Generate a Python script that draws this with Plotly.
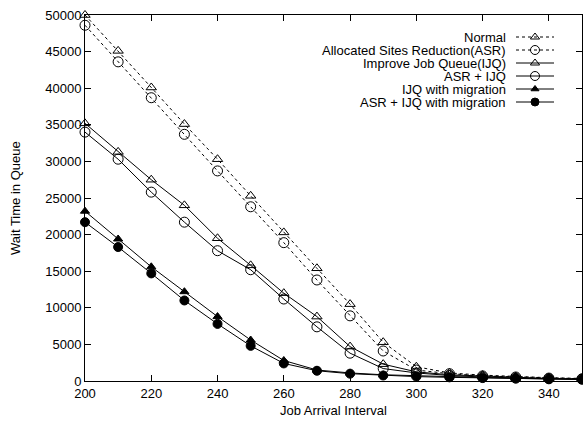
import plotly.graph_objects as go

x_vals = [200, 210, 220, 230, 240, 250, 260, 270, 280, 290, 300, 310, 320, 330, 340, 350]

normal = [50000, 45100, 40100, 35100, 30300, 25300, 20300, 15400, 10500, 5300, 1950, 1100, 800, 600, 450, 350]
asr = [48600, 43600, 38700, 33700, 28700, 23800, 18900, 13800, 8900, 4100, 1500, 1000, 700, 550, 400, 300]
ijq = [35200, 31300, 27500, 24000, 19500, 15800, 12000, 8800, 4700, 2300, 1250, 850, 650, 450, 350, 250]
asr_ijq = [34000, 30300, 25800, 21700, 17800, 15200, 11200, 7400, 3800, 1700, 1100, 750, 550, 400, 300, 250]
ijq_mig = [23200, 19400, 15600, 12200, 8800, 5600, 2800, 1500, 1100, 850, 700, 550, 450, 350, 300, 250]
asr_ijq_mig = [21700, 18300, 14700, 11000, 7800, 4800, 2400, 1400, 1000, 750, 600, 500, 400, 350, 280, 220]

names = ["Normal", "Allocated Sites Reduction(ASR)", "Improve Job Queue(IJQ)",
         "ASR + IJQ", "IJQ with migration", "ASR + IJQ with migration"]
series = [normal, asr, ijq, asr_ijq, ijq_mig, asr_ijq_mig]
symbols = ["triangle-up-open", "circle-open", "triangle-up-open", "circle-open", "triangle-up", "circle"]
dashes = ["3px,3px", "3px,3px", "solid", "solid", "solid", "solid"]
sizes = [9, 10, 9, 10, 8, 9]

x_ticks = [200, 220, 240, 260, 280, 300, 320, 340]
y_ticks = [0, 5000, 10000, 15000, 20000, 25000, 30000, 35000, 40000, 45000, 50000]
y_tick_labels = [str(v) for v in y_ticks]

FONT = "Liberation Sans, Arial, sans-serif"
fig = go.Figure()

for nm, ys, sym, ds, sz in zip(names, series, symbols, dashes, sizes):
    fig.add_trace(go.Scatter(
        x=x_vals, y=ys, mode="lines+markers", name=nm,
        line=dict(color="black", width=1, dash=ds),
        marker=dict(symbol=sym, size=sz, color="black", line=dict(color="black", width=1)),
        cliponaxis=False, showlegend=False))

# manual gnuplot-style legend (text left, sample right), in pixel-like overlay axes
leg_y0 = 37
leg_dy = 13
for i, (nm, sym, ds, sz) in enumerate(zip(names, symbols, dashes, sizes)):
    yy = leg_y0 + i * leg_dy
    fig.add_trace(go.Scatter(
        x=[516, 554], y=[yy, yy], mode="lines", xaxis="x2", yaxis="y2",
        line=dict(color="black", width=1, dash=ds), showlegend=False, hoverinfo="skip"))
    fig.add_trace(go.Scatter(
        x=[535], y=[yy], mode="markers", xaxis="x2", yaxis="y2",
        marker=dict(symbol=sym, size=sz - 1, color="black", line=dict(color="black", width=1)),
        showlegend=False, hoverinfo="skip"))
    fig.add_annotation(x=508, y=yy, xref="x2", yref="y2", text=nm, showarrow=False,
                       xanchor="right", yanchor="middle", font=dict(size=13, family=FONT, color="black"))

# axis titles
fig.add_annotation(x=(333.5 - 85) / 497, y=(381 - 410) / 366, xref="paper", yref="paper",
                   text="Job Arrival Interval", showarrow=False, xanchor="center", yanchor="middle",
                   font=dict(size=13, family=FONT, color="black"))
fig.add_annotation(x=(15 - 85) / 497, y=(381 - 198) / 366, xref="paper", yref="paper",
                   text="Wait Time in Queue", showarrow=False, textangle=-90,
                   xanchor="center", yanchor="middle",
                   font=dict(size=13, family=FONT, color="black"))

fig.update_layout(
    width=583, height=421,
    margin=dict(l=85, r=1, t=15, b=40),
    paper_bgcolor="white", plot_bgcolor="white",
    font=dict(family=FONT, size=13, color="black"),
    xaxis=dict(range=[200, 350], tickvals=x_ticks, ticks="inside", ticklen=6, tickcolor="black",
               showline=True, linecolor="black", linewidth=1, mirror="ticks", showgrid=False,
               zeroline=False, tickfont=dict(size=13), automargin=False),
    yaxis=dict(range=[0, 50000], tickvals=y_ticks, ticktext=y_tick_labels, ticks="inside",
               ticklen=6, tickcolor="black",
               showline=True, linecolor="black", linewidth=1, mirror="ticks", showgrid=False,
               zeroline=False, tickfont=dict(size=13), automargin=False),
    xaxis2=dict(overlaying="x", range=[85, 582], visible=False, fixedrange=True),
    yaxis2=dict(overlaying="y", range=[381, 15], visible=False, fixedrange=True),
)

fig.write_html("out.html", config={"displayModeBar": False},
               post_script="document.body.style.margin='0';document.body.style.overflow='hidden';")
